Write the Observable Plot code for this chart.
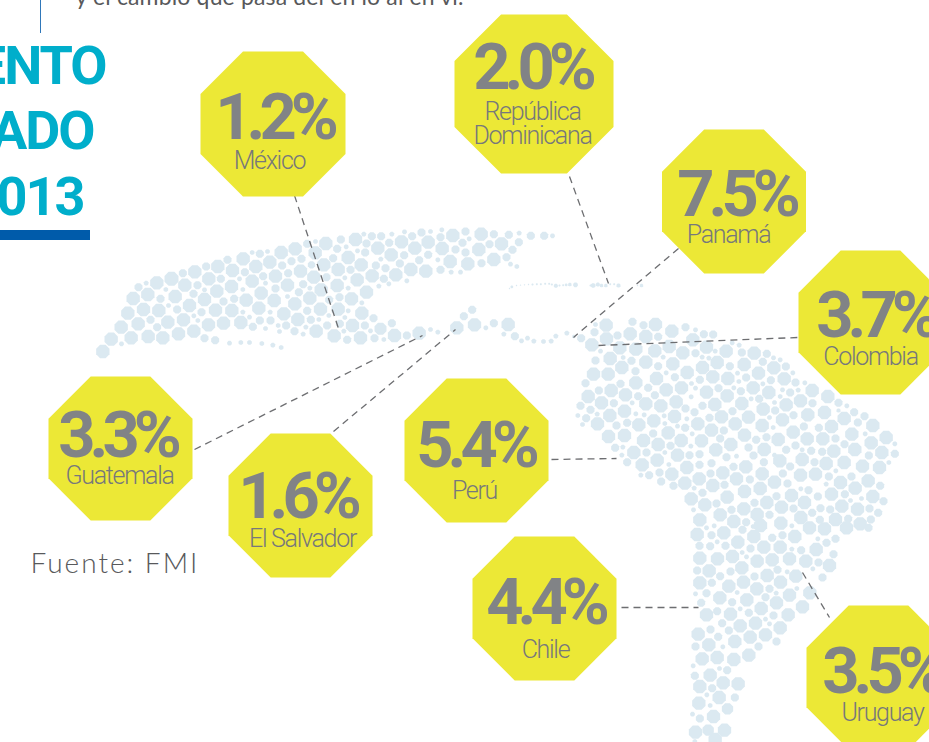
<!DOCTYPE html>
<html lang="es"><head><meta charset="utf-8">
<script src="https://cdn.jsdelivr.net/npm/d3@7"></script>
<script src="https://cdn.jsdelivr.net/npm/@observablehq/plot@0.6"></script>
<style>
html,body{margin:0;padding:0;background:#fff;overflow:hidden}
svg{display:block}
.pct text{letter-spacing:-6px}
.lab text{letter-spacing:-1.3px}
.src text{letter-spacing:2px}
.ttl text{letter-spacing:-2px}
.intro text{letter-spacing:.15px}
</style></head><body>
<script>
const countries = ["México","República Dominicana","Panamá","Colombia","Guatemala","El Salvador","Perú","Chile","Uruguay"];
const growth = [1.2,2.0,7.5,3.7,3.3,1.6,5.4,4.4,3.5];
// Octagon centres and size, read in picture units
const cx = [272.5,533.5,733.5,870,120,300,476,544,878];
const cy = [123.5,93.5,201,322,448,505,450,608,677];
const cr = [72.5,79.5,72,72,72,72,72,72,72];
const pctX = [277,535,739,878,120,300,478,548,884];
const pctY = [140,90,217,338,458,519,468,625,694];
const labels = [
  ["México",269,169],["República",532,120],["Dominicana",532,144],["Panamá",728,243],
  ["Colombia",870,365],["Guatemala",119,484],["El Salvador",302,547],["Perú",474,499],["Chile",545,658],["Uruguay",882,721]
];
// Leader lines: [x1,y1,x2,y2]
const leaders = [
  [294,195,338,328],[569,176,608,283],[678,248,573,337],[598,345,797,337],
  [194,449,422,335],[333,431,455,329],[551,459,616,458],[621,607,698,607],[802,572,829,617]
];
const titleLines = [["ENTO",105,85],["ADO",93,150],["2013",83,216]];
const sourceLabel = "Fuente: FMI";
const introLine = "y el cambio que pasa del en lo al en vi.";

// Map dots: [x, y, radius] in 3x reading units, with the reading's origin
const mexicoOrigin = [90,220];
const mexicoDots = [[37,393,20],[62,356,20],[92,320,20],[112,278,20],[128,234,20],[93,370,7],[122,352,20],[143,310,20],[159,267,20],[172,222,20],[144,200,12],[167,188,7],[199,187,20],[243,175,21],[277,158,12],[313,154,20],[347,138,12],[382,138,20],[411,118,12],[458,115,20],[485,96,7],[508,100,12],[531,93,7],[572,96,20],[614,85,20],[650,70,12],[675,63,7],[706,69,20],[751,57,12],[795,57,20],[820,41,7],[844,47,12],[872,47,12],
[173,348,20],[217,352,20],[180,298,12],[205,270,20],[210,235,12],[226,207,7],[254,228,20],[283,194,20],[321,194,12],[355,175,20],[391,175,12],[426,150,20],[463,155,12],[496,138,20],[538,125,20],[575,135,12],[603,122,12],[633,115,12],[674,97,20],[740,85,12],[767,79,7],[828,69,12],[862,83,20],[824,96,12],[801,91,7],[773,111,20],[728,113,12],[700,133,20],[663,133,11],[630,152,20],[593,158,12],[555,167,20],[518,167,12],[485,182,20],[447,175,7],[423,198,20],[379,212,20],[342,208,7],[309,220,12],[342,237,20],[297,255,20],[260,267,12],[234,255,7],[232,305,20],[279,298,20],[310,286,7],[333,275,12],[375,269,20],[399,243,12],[431,235,12],[467,239,20],[457,207,7],[512,218,20],[551,240,20],[555,204,12],[591,194,20],[525,188,7],[625,215,12],[638,191,12],[658,203,7],[670,170,20],[708,170,12],[743,147,20],[780,148,12],[812,133,20],[856,135,12],[871,116,7],[845,166,20],[800,178,20],[763,172,7],[740,195,20],[692,208,20],[716,238,12],[747,230,12],[773,203,7],[828,215,20],[865,197,7],[783,235,20],[814,247,7],[743,266,20],[690,266,20],[658,233,20],[613,250,20],[591,228,7],[650,271,12],[580,280,20],[622,297,20],[661,298,12],[685,297,7],[715,285,7],[763,291,7],[773,271,7],[814,278,20],[849,293,12],[786,315,20],[823,315,12],[840,331,7],[748,310,12],[710,315,12],[677,332,20],[646,320,7],[638,341,7],[612,332,12],[587,315,12],[563,315,7],[567,333,7],[540,300,12],[525,324,7],[539,275,7],[505,263,20],[457,275,7],[424,270,20],[477,290,7],[508,300,12],[487,319,12],[451,306,20],[399,308,20],[354,313,20],[322,300,7],[310,332,20],[264,340,20],[200,320,12],[342,353,12],[374,359,12],[417,368,7],[451,366,7],[477,366,7],[514,369,7],[547,374,7],[572,381,7],[731,346,20],[770,358,12],[810,352,20],[852,353,12],[760,332,7]];

const caribeOrigin = [380,220];
const caribeDots = [[34,41,7],[72,34,7],[95,47,12],[123,36,12],[150,33,7],[184,28,7],[180,50,12],[217,45,20],[255,33,12],[266,55,7],[302,41,20],[340,41,12],[385,43,12],[416,38,7],[451,46,12],[491,46,12],[516,46,7],[26,67,12],[63,64,20],[103,83,20],[143,65,20],[185,84,20],[246,67,12],[225,87,12],[255,96,12],[295,87,20],[327,71,12],[363,70,20],[415,65,12],[396,88,12],[340,117,20],[378,110,12],[303,128,12],[262,130,20],[209,123,20],[172,118,7],[143,103,12],[71,104,12],[32,103,20],[116,119,12],[58,129,12],[15,143,12],[46,163,20],[91,147,20],[136,152,20],[180,148,12],[212,155,7],[240,155,7],[390,131,7],[409,138,7],[79,181,7],[10,175,12],[25,190,7],
[387,204,2],[394,199,4],[408,195,2],[420,194,2],[432,193,2],[444,192,2],[456,192,3],[469,191,3],[481,191,3],[494,190,3],[506,190,3],[514,192,3],[526,196,6],[537,195,3],[548,194,3],[557,193,4],[568,192,5],[585,193,7],[630,195,3],[638,195,7],[652,192,6],[663,195,5],[676,195,5],[689,191,3],[701,191,3],[714,195,6],[771,195,2],[783,195,5],
[0,325,18],[34,308,12],[42,345,20],[10,357,7],[79,345,12],[116,338,20],[150,327,7],[172,335,7],[229,322,20],[250,287,12],[275,268,12],[282,313,20],[316,322,7],[340,308,12],[383,312,20],[370,341,7],[403,347,12],[423,361,7],[441,353,7],[460,362,7],[489,363,7],[512,362,7],[526,347,7],[559,338,7]];

const surOrigin = [570,310];
const surDots = [[107,44,20],[186,34,12],[219,44,12],[255,42,20],[304,62,20],[345,50,12],[375,58,7],[400,71,12],[428,72,12],[10,78,5],[32,83,12],[72,65,12],[75,42,7],[64,103,20],[108,85,20],[141,75,12],[179,70,20],[226,78,20],[263,79,12],[367,88,20],[90,122,7],[148,112,20],[196,116,20],[253,121,20],[296,108,20],[337,127,20],[375,128,12],[408,110,20],[434,122,7],[467,122,20],[485,97,7],[506,104,7],[514,126,12],[551,128,20],[589,130,12],
[75,150,12],[119,144,20],[158,141,7],[183,151,12],[226,155,20],[278,140,7],[263,167,12],[307,160,20],[395,140,7],[415,143,7],[396,171,20],[440,156,20],[478,167,12],[521,162,20],[577,154,12],[609,142,7],[629,148,7],[610,172,20],[646,168,12],[564,188,20],[667,187,7],
[69,191,20],[113,191,20],[154,171,20],[195,182,12],[45,218,12],[150,220,12],[196,217,20],[258,204,20],[287,187,7],[313,200,12],[350,186,20],[388,208,12],[427,199,20],[472,204,20],[501,188,7],[527,201,12],[505,213,7],[601,209,12],[641,205,20],[675,216,12],[703,217,7],
[85,240,12],[122,240,20],[233,232,12],[287,238,20],[333,232,20],[363,219,7],[375,233,7],[408,245,20],[444,233,12],[490,232,7],[511,242,12],[548,232,20],[577,220,7],[595,246,20],[636,238,7],[659,246,12],[683,239,7],[725,240,20],[772,258,20],
[53,258,20],[165,253,20],[203,257,12],[253,254,12],[470,256,20],[629,258,7],
[93,277,20],[130,278,12],[185,277,7],[226,280,20],[271,286,20],[317,274,20],[362,259,7],[345,294,12],[396,286,12],[433,282,20],[514,279,20],[542,265,7],[566,265,12],[612,276,7],[647,283,20],[690,271,20],[726,278,12],[804,277,12],[829,286,7],
[30,286,12],[60,298,12],[162,302,20],[118,315,20],[80,311,7],[196,310,7],[221,313,7],[372,305,12],[486,302,12],[578,296,20],[614,300,12],[762,306,20],[712,313,20],[669,314,12],[804,300,6],[851,305,12],[882,317,12],
[22,315,7],[47,323,12],[36,342,7],[81,340,20],[138,345,12],[170,337,12],[205,343,20],[250,331,20],[281,316,7],[312,318,20],[349,325,7],[283,339,7],[382,340,20],[417,322,12],[453,319,20],[534,320,20],[494,340,20],[597,321,7],[636,328,20],[821,324,20],[862,336,12],[907,345,20],
[321,347,7],[344,352,12],[423,359,20],[460,360,12],[575,345,20],[608,351,7],[700,348,12],[745,352,12],[783,348,20],
[114,378,20],[162,375,20],[248,369,12],[293,367,20],[365,370,7],[522,374,20],[668,365,20],[844,371,20],[884,370,7],
[219,390,20],[332,390,20],[393,391,20],[449,384,12],[557,388,12],[588,380,12],[623,387,20],[710,385,20],[757,385,20],[795,384,12],[947,381,20],
[263,402,20],[300,406,12],[361,407,7],[481,402,20],[534,411,12],[581,417,20],[647,418,12],[675,405,12],[822,401,12],[902,397,20],[973,400,7],
[134,412,12],[157,410,7],[190,426,20],[228,426,12],[283,426,7],[321,434,20],[357,434,12],[387,431,12],[436,418,20],[612,434,7],[695,418,7],[722,421,12],[755,424,12],[790,422,20],[853,417,20],[895,435,12],[934,426,20],[973,430,12],
[154,434,7],[170,455,12],[260,449,20],[468,440,12],[498,437,7],[549,435,12],[628,451,20],[695,447,20],[732,455,12],[767,459,20],[821,456,20],[876,467,20],[927,471,20],[955,456,7],
[215,463,20],[295,462,7],[349,471,20],[387,463,12],[423,458,12],[489,469,12],[526,469,20],[580,455,12],[659,468,12],
[211,494,7],[236,494,12],[267,486,12],[304,491,20],[420,489,12],[457,487,20],[575,490,20],[637,489,12],[690,494,20],[735,491,20],[775,498,12],[796,481,7],[843,498,12],[893,511,20],
[272,513,12],[309,526,12],[343,518,20],[386,505,20],[427,525,20],[498,505,20],[538,507,12],[612,515,20],[651,519,12],[767,521,7],[810,516,20],[929,526,12],
[371,533,7],[396,547,12],[462,523,12],[522,543,20],[569,534,20],[691,535,7],[714,539,12],[663,555,20],[783,551,20],[854,533,20],[823,551,12],
[362,565,20],[470,560,20],[618,557,12],[742,558,12],[907,558,20],[939,572,12],[873,564,7],[840,570,7],
[403,583,20],[438,579,12],[552,577,12],[589,576,20],[702,576,20],[633,590,20],[669,594,12],[750,593,12],[814,587,20],[779,597,12],[861,596,20],[897,594,12],[520,595,20],[483,598,12],
[369,598,7],[449,613,20],[560,612,20],[597,613,12],[691,621,20],[725,607,12],[923,607,12],
[388,628,20],[490,633,20],[527,635,12],[431,646,7],[408,652,7],[570,645,20],[631,638,20],[748,628,12],[795,627,20],[833,625,12],[869,640,20],[901,627,12],
[548,648,7],[717,652,20],[762,655,20],[828,652,20],[894,652,12]];

const conoOrigin = [670,520];
const conoDots = [[80,42,20],[123,44,12],[160,37,20],[216,28,12],[364,16,7],[250,48,20],[305,52,12],[336,44,12],[373,48,20],[442,55,7],[468,67,12],[495,55,12],
[87,76,12],[119,77,12],[140,64,7],[165,76,12],[202,65,20],[240,84,12],[280,80,20],[329,80,20],[364,86,7],[392,89,12],[437,87,20],[489,101,12],
[88,113,20],[141,115,20],[186,108,20],[215,96,7],[228,109,7],[260,122,20],[305,118,20],[357,115,20],[406,122,20],[444,126,12],[477,135,20],[427,145,7],
[80,150,12],[116,151,20],[149,167,12],[180,153,12],[214,142,20],[252,168,12],[290,165,20],[321,148,12],[350,154,7],[376,167,20],[456,171,12],
[88,187,20],[124,187,12],[175,197,20],[219,185,20],[330,185,20],[75,220,7],[108,218,12],[148,232,20],[200,216,7],[259,205,20],[297,205,12],[379,204,7],[418,217,20],[317,218,7],[357,224,20],[229,238,20],[285,230,12],
[92,247,12],[185,245,12],[318,247,20],[396,259,20],[272,264,20],[108,283,20],[140,272,12],[209,265,7],[235,277,12],[180,281,20],[309,285,12],[353,283,20],
[155,308,12],[285,296,7],[297,310,7],[255,308,20],[209,316,20],[329,322,20],[120,327,12],[175,330,12],[83,341,20],[285,343,20],[143,349,12],[239,350,20],[115,373,20],[193,363,20],[318,363,12],[75,378,12],[157,379,7],[264,378,12],[235,404,20],[95,415,20],[140,411,20],[190,417,20],[68,436,7],[147,444,7],[170,449,12],[119,464,20],[73,466,12],[158,487,20],[203,490,20],[88,498,20],[125,503,12],[109,523,7],[146,531,20],[193,531,12],[85,548,20],[119,555,7],[171,565,17],[129,588,20],[66,581,7],[88,594,12],[162,629,20],[75,635,20],[113,629,17],[134,657,20],[73,663,7]];

const fromReading = ([ox,oy], dots) => dots.map(([x,y,r]) => ({x:ox+x/3, y:oy+y/3, r:r/3}));
const mapDots = [
  ...fromReading(mexicoOrigin, mexicoDots),
  ...fromReading(caribeOrigin, caribeDots),
  ...fromReading(surOrigin, surDots),
  ...fromReading(conoOrigin, conoDots)
];
const badges = countries.map((c,i) => ({country:c, value:growth[i], x:cx[i], y:cy[i], r:cr[i], tx:pctX[i], ty:pctY[i]}));

// Octagon symbol: r is the flat-to-centre distance
const octagon = {draw(ctx, size){
  const R = Math.sqrt(size/Math.PI)/Math.cos(Math.PI/8);
  for(let k=0;k<8;k++){
    const a = Math.PI/8 + k*Math.PI/4;
    const px = R*Math.cos(a), py = R*Math.sin(a);
    k ? ctx.lineTo(px,py) : ctx.moveTo(px,py);
  }
  ctx.closePath();
}};

const chart = Plot.plot({
  width:929, height:742, margin:0,
  x:{domain:[0,929],range:[0,929],axis:null},
  y:{domain:[0,742],range:[0,742],axis:null},
  r:{type:"identity"},
  marks:[
    Plot.dot(mapDots,{x:"x",y:"y",r:"r",symbol:octagon,fill:"#dbe9f1"}),
    Plot.link(leaders,{x1:d=>d[0],y1:d=>d[1],x2:d=>d[2],y2:d=>d[3],stroke:"#6d6e71",strokeWidth:1.3,strokeDasharray:"7 5"}),
    Plot.dot(badges,{x:"x",y:"y",r:"r",symbol:octagon,fill:"#ece836"}),
    Plot.text(badges,{x:"tx",y:"ty",text:d=>d.value.toFixed(1)+"%",fill:"#818386",fontFamily:"Roboto",fontWeight:700,fontSize:65,lineAnchor:"bottom",dy:-2,dx:-3.5,className:"pct"}),
    Plot.text(labels,{x:d=>d[1],y:d=>d[2],text:d=>d[0],fill:"#77787b",fontFamily:"Roboto",fontWeight:300,fontSize:25,lineAnchor:"bottom",dy:-1,className:"lab"}),
    Plot.text(titleLines,{x:d=>d[1],y:d=>d[2],text:d=>d[0],fill:"#00aecb",fontFamily:"Roboto",fontWeight:700,fontSize:54,textAnchor:"end",lineAnchor:"bottom",dy:-2,className:"ttl"}),
    Plot.rect([[0,90,230,240]],{x1:d=>d[0],x2:d=>d[1],y1:d=>d[2],y2:d=>d[3],fill:"#005baa"}),
    Plot.ruleX([40],{y1:0,y2:33,stroke:"#2f77b9",strokeWidth:1}),
    Plot.text([sourceLabel],{x:30,y:564,text:d=>d,fill:"#58595b",fontFamily:"Lato",fontWeight:300,fontSize:28,textAnchor:"start",className:"src"}),
    Plot.text([introLine],{x:75,y:-3,text:d=>d,fill:"#58595b",fontFamily:"Lato",fontSize:23,textAnchor:"start",className:"intro"})
  ]
});
document.body.append(chart);
</script>
</body></html>
